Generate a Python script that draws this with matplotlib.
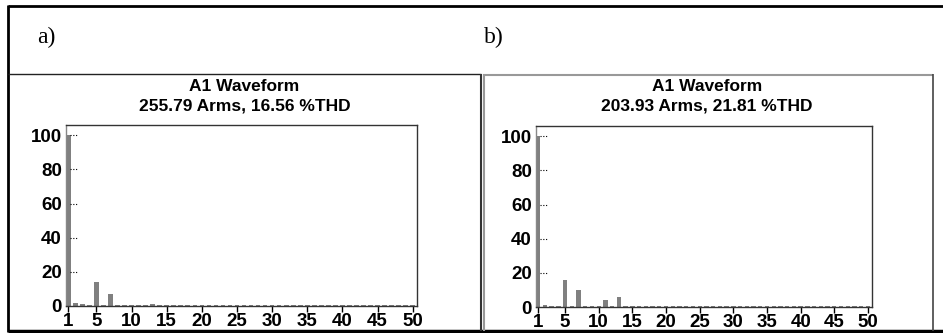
import matplotlib
matplotlib.use("Agg")
import matplotlib.pyplot as plt
from matplotlib.lines import Line2D

W, H = 943, 333

# harmonic spectra (% of fundamental)
harmonics = list(range(1, 51))
spec_a = [100, 1.8, 1.2, 0.6, 14, 0.6, 7, 0.3, 0.5, 0.3,
          0.6, 0.3, 1.2, 0.3, 0.3, 0.3, 0.5, 0.3, 0.3, 0.3] + [0.3] * 30
spec_b = [100, 1.2, 0.4, 0.3, 16, 0.3, 10, 0.3, 0.5, 0.3,
          4, 0.3, 6, 0.3, 0.3, 0.3, 0.4, 0.3, 0.5, 0.3] + [0.3] * 30
titles = ["A1 Waveform\n255.79 Arms, 16.56 %THD",
          "A1 Waveform\n203.93 Arms, 21.81 %THD"]
panel_labels = ["a)", "b)"]
xticks = [1, 5, 10, 15, 20, 25, 30, 35, 40, 45, 50]
yticks = [0, 20, 40, 60, 80, 100]

fig = plt.figure(figsize=(W / 100, H / 100), dpi=100)


def px_axes(l, t, r, b):
    return fig.add_axes([l / W, 1 - b / H, (r - l) / W, (b - t) / H])


def px_line(x0, y0, x1, y1, color="black", lw=1.0):
    fig.add_artist(Line2D([x0 / W, x1 / W], [1 - y0 / H, 1 - y1 / H],
                          transform=fig.transFigure, color=color, lw=lw,
                          solid_capstyle="butt"))


# table frame
px_line(8, 6, 943, 6, lw=2)
px_line(8, 5, 8, 332, lw=2)
px_line(8, 331, 943, 331, lw=2.5)
px_line(8, 74, 481, 74, color="#222222", lw=1)
px_line(481, 74, 481, 331, color="#333333", lw=1.5)
px_line(483.5, 74, 483.5, 331, color="#999999", lw=1.5)
px_line(483, 74.5, 933, 74.5, color="#999999", lw=1.5)
px_line(933, 74, 933, 331, color="#444444", lw=1.2)

boxes = [(66, 125, 417, 306), (536, 126, 872, 307)]
label_x = [46, 494]
specs = [spec_a, spec_b]

for i in range(2):
    l, t, r, b = boxes[i]
    ax = px_axes(l, t, r, b)
    ax.bar(harmonics, specs[i], width=0.65, color="#808080", linewidth=0)
    ax.set_xlim(0.68, 50.6)
    ax.set_ylim(0, 106)
    ax.set_xticks(xticks)
    ax.set_yticks(yticks)
    for y in yticks[1:]:
        ax.plot([0.012, 0.035], [y, y], transform=ax.get_yaxis_transform(),
                color="black", lw=0.8, ls=(0, (1, 1.5)))
    ax.tick_params(axis="x", length=4, width=1, pad=1, direction="out")
    ax.tick_params(axis="y", length=0, pad=3)
    for lab in ax.get_xticklabels() + ax.get_yticklabels():
        lab.set_fontfamily("Liberation Sans")
        lab.set_fontweight("bold")
        lab.set_fontsize(13.5)
    for s in ax.spines.values():
        s.set_color("#333333")
        s.set_linewidth(1)
    ax.spines["left"].set_color("#888888")
    fig.text((l + r) / 2 / W + 0.003, 1 - 96 / H, titles[i], ha="center",
             va="center", family="Liberation Sans", weight="bold",
             fontsize=12.5, linespacing=1.4)
    fig.text(label_x[i] / W, 1 - 37 / H, panel_labels[i], ha="center",
             va="center", family="Liberation Serif", fontsize=17)

fig.savefig("out.png", dpi=100)
